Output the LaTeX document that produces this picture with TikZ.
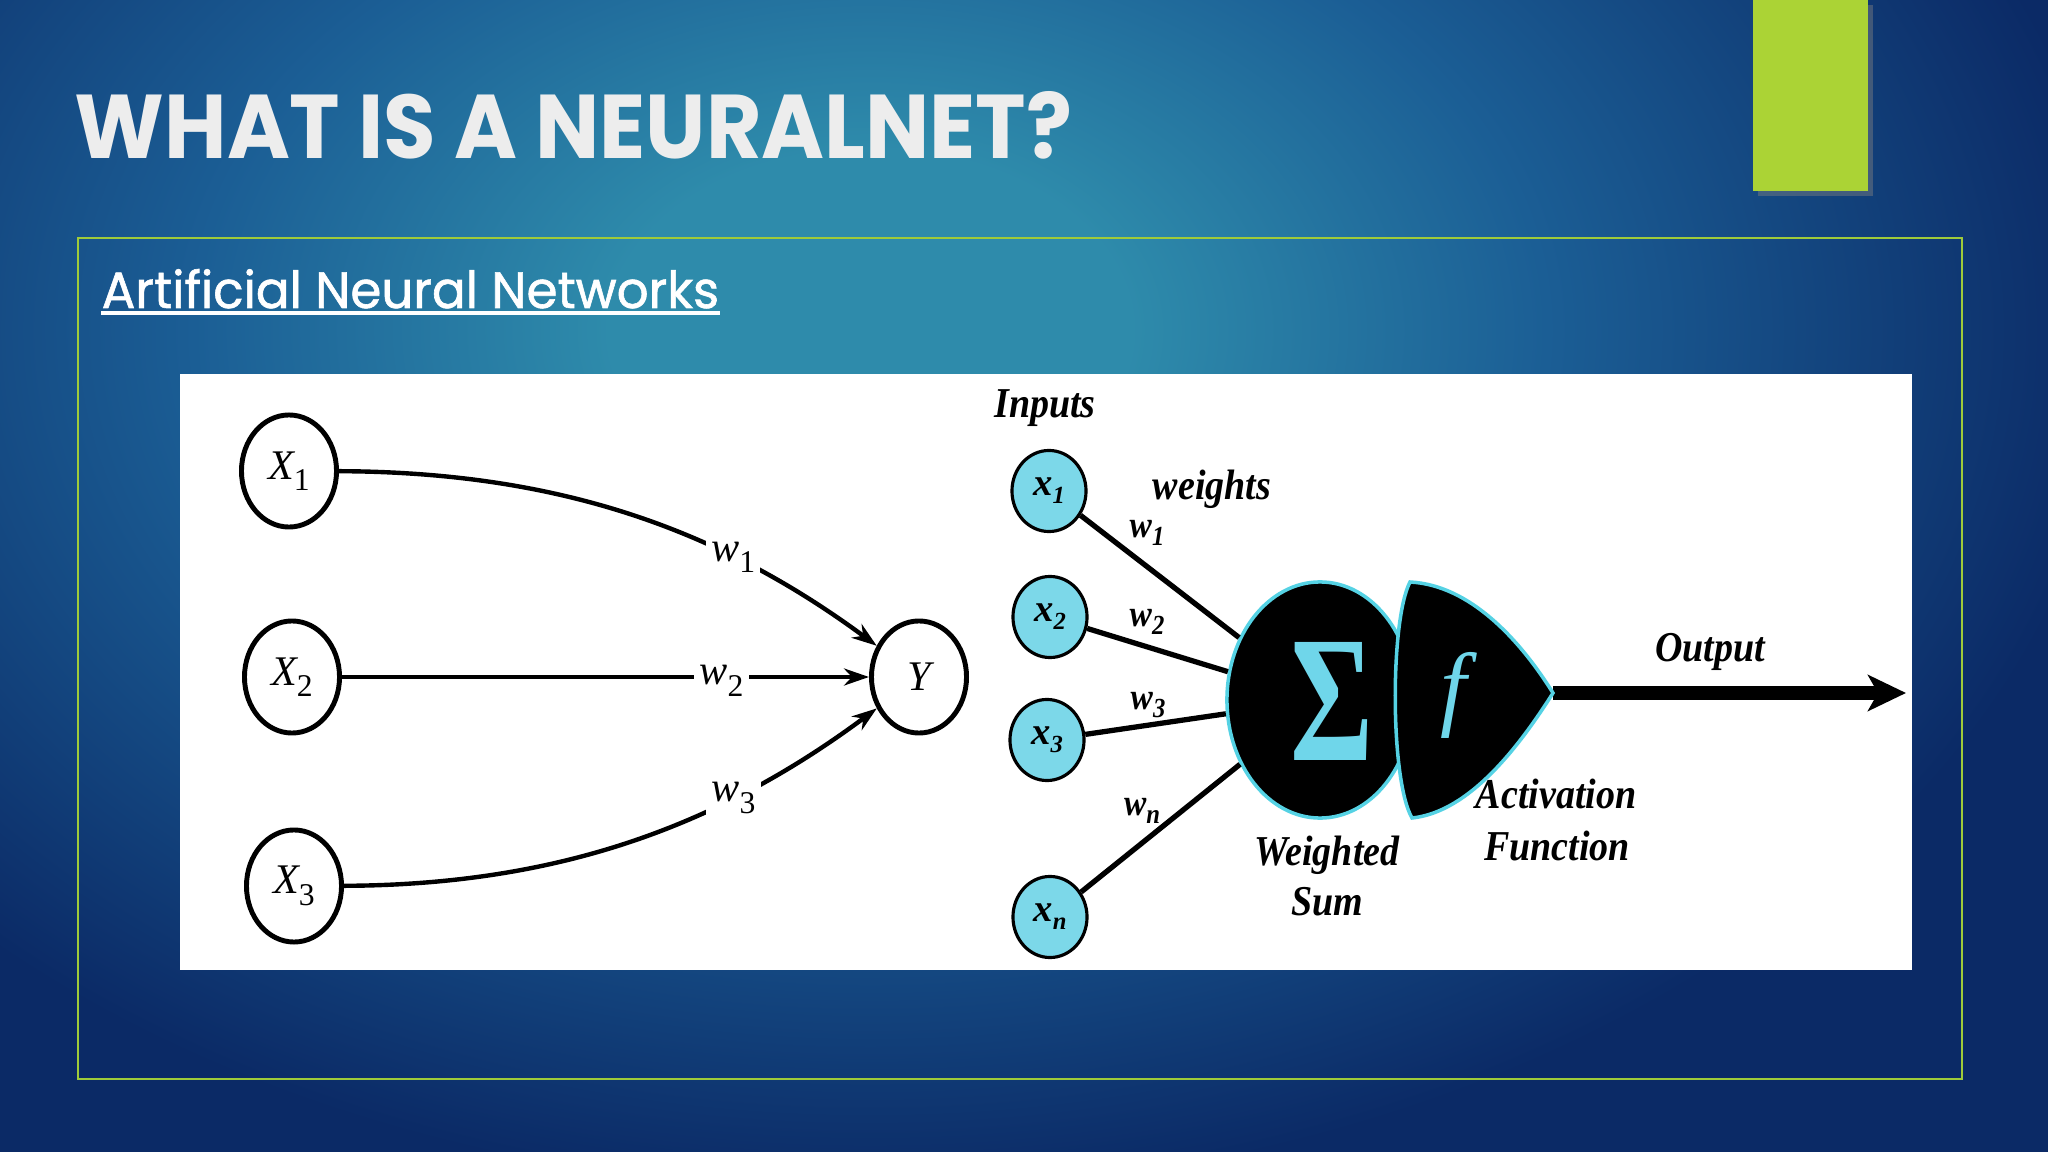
\documentclass[tikz,border=0pt]{standalone}
\usepackage{fontspec}
\usepackage{graphicx}
\setmainfont{Liberation Serif}
\newfontfamily\gothic{Poppins}
\newfontfamily\gothicmed{Poppins}[FakeBold=1.2]
\usetikzlibrary{arrows.meta,shapes.geometric,calc,shadows}
\definecolor{bgnavy}{HTML}{0B2A66}
\definecolor{bgmid}{HTML}{1B5E95}
\definecolor{bgteal}{HTML}{2E8BAB}
\definecolor{accentgreen}{HTML}{ABD335}
\definecolor{framegreen}{HTML}{9FCB3A}
\definecolor{titlewhite}{HTML}{EDEDED}
\definecolor{nodecyan}{HTML}{7CD8E9}
\definecolor{glowcyan}{HTML}{55D2E4}
\definecolor{sigcyan}{HTML}{6FD6EA}
\pgfdeclareradialshading{bgshade}{\pgfpoint{0bp}{0bp}}{color(0bp)=(bgteal); color(5bp)=(bgteal); color(13bp)=(bgmid); color(24bp)=(bgnavy); color(50bp)=(bgnavy)}
\newcommand\lsub[2]{#1\raisebox{-0.6ex}{\fontsize{9pt}{9pt}\selectfont\upshape #2}}
\newcommand\rsub[2]{#1\raisebox{-0.45ex}{\fontsize{7pt}{7pt}\selectfont #2}}
\newcommand\tallt[1]{\scalebox{1}[1.12]{#1}}
\begin{document}
\begin{tikzpicture}[x=0.01cm,y=-0.01cm,
  lcirc/.style={draw=black, line width=1.4pt, ellipse, minimum width=0.95cm, minimum height=1.12cm, inner sep=0pt, fill=white, font=\fontsize{12pt}{14pt}\selectfont\itshape},
  lwire/.style={line width=1.25pt, -{Stealth[length=2.5mm,width=1.7mm]}},
  llab/.style={fill=white, inner sep=1.5pt, font=\fontsize{12pt}{14pt}\selectfont\itshape},
  incirc/.style={draw=black, line width=0.9pt, ellipse, fill=nodecyan, minimum width=0.74cm, minimum height=0.81cm, inner sep=0pt, font=\fontsize{11pt}{13pt}\selectfont\bfseries\itshape},
  rwire/.style={line width=1.5pt},
  rlab/.style={font=\fontsize{10.8pt}{13pt}\selectfont\bfseries\itshape, inner sep=0pt},
  wlab/.style={font=\fontsize{9.5pt}{11pt}\selectfont\bfseries\itshape, inner sep=0pt},
]
\useasboundingbox (0,0) rectangle (2048,1152);
% background
\begin{scope}
\clip (0,0) rectangle (2048,1152);
\fill[bgnavy] (0,0) rectangle (2048,1152);
\shade[shading=bgshade] (870,330) ellipse (13cm and 9cm);
\end{scope}
% accent bar and frame
\fill[accentgreen, drop shadow={shadow xshift=1.5pt, shadow yshift=-1.5pt, opacity=0.45}] (1753,0) rectangle (1868,191);
\draw[framegreen, line width=0.8pt] (78,238) rectangle (1962,1079);
% title and subtitle
\node[anchor=base west, inner sep=0pt, text=titlewhite] (title) at (74,159) {\resizebox{9.97cm}{0.67cm}{\gothic\bfseries WHAT IS A NEURALNET?}};
\node[anchor=base west, inner sep=0pt, text=white] (sub) at (101,308) {\resizebox{6.17cm}{0.39cm}{\gothicmed Artificial Neural Networks}};
\draw[white, line width=0.9pt] ($(sub.base west)+(0,5)$) -- ($(sub.base east)+(0,5)$);
% picture panel
\fill[white] (180,374) rectangle (1912,970);
% left network
\node[lcirc] (X1) at (289,471) {\lsub{X}{1}};
\node[lcirc] (X2) at (292,677) {\lsub{X}{2}};
\node[lcirc] (X3) at (294,886) {\lsub{X}{3}};
\node[lcirc] (Y) at (919,677) {Y};
\draw[lwire] (X1) .. controls (560,472) and (720,530) .. (Y) node[llab, pos=0.7] (lw1) {\lsub{w}{1}};
\draw[lwire] (X2) -- (Y) node[llab, pos=0.72, yshift=-1pt] (lw2) {\lsub{w}{2}};
\draw[lwire] (X3) .. controls (560,885) and (720,825) .. (Y) node[llab, pos=0.7] (lw3) {\lsub{w}{3}};
% right neuron
\node[incirc] (x1) at (1049,491) {\rsub{x}{1}};
\node[incirc] (x2) at (1050,617) {\rsub{x}{2}};
\node[incirc] (x3) at (1047,740) {\rsub{x}{3}};
\node[incirc] (xn) at (1050,917) {\rsub{x}{n}};
\node[ellipse, fill=black, draw=glowcyan, line width=1pt, minimum width=1.86cm, minimum height=2.36cm, inner sep=0pt] (sum) at (1320,700) {};
\draw[rwire] (x1) -- (sum);
\draw[rwire] (x2) -- (sum);
\draw[rwire] (x3) -- (sum);
\draw[rwire] (xn) -- (sum);
\node[text=sigcyan, inner sep=0pt] (sigma) at (1332,701) {\resizebox{0.83cm}{1.18cm}{\bfseries Σ}};
\coordinate (ftop) at (1410,582);
\coordinate (ftip) at (1553,693);
\coordinate (fbot) at (1412,818);
\coordinate (outend) at (1906,693);
\draw[line width=4pt, -{Stealth[length=3.8mm,width=3.6mm,inset=1mm]}] (ftip) -- (outend);
\draw[fill=black, draw=glowcyan, line width=1pt] (ftop) .. controls (1470,585) and (1520,640) .. (ftip) .. controls (1520,745) and (1470,812) .. (fbot) .. controls (1390,780) and (1390,620) .. (ftop) -- cycle;
\node[text=sigcyan, inner sep=0pt] (fsym) at (1454,695) {\resizebox*{!}{0.86cm}{\itshape f}};
% labels
\node[rlab, anchor=base] (inputs) at (1045,418) {\tallt{Inputs}};
\node[rlab, anchor=base] (weights) at (1212,500) {\tallt{weights}};
\node[wlab] (rw1) at (1147,533) {\tallt{\rsub{w}{1}}};
\node[wlab] (rw2) at (1147,622) {\tallt{\rsub{w}{2}}};
\node[wlab] (rw3) at (1148,705) {\tallt{\rsub{w}{3}}};
\node[wlab] (rwn) at (1142,811) {\tallt{\rsub{w}{n}}};
\node[rlab, anchor=base] (weighted) at (1327,865) {\tallt{Weighted}};
\node[rlab, anchor=base] (sumlab) at (1327,915) {\tallt{Sum}};
\node[rlab, anchor=base] (activation) at (1556,808) {\tallt{Activation}};
\node[rlab, anchor=base] (function) at (1557,860) {\tallt{Function}};
\node[rlab, anchor=base] (output) at (1710,662) {\tallt{Output}};
\end{tikzpicture}
\end{document}
